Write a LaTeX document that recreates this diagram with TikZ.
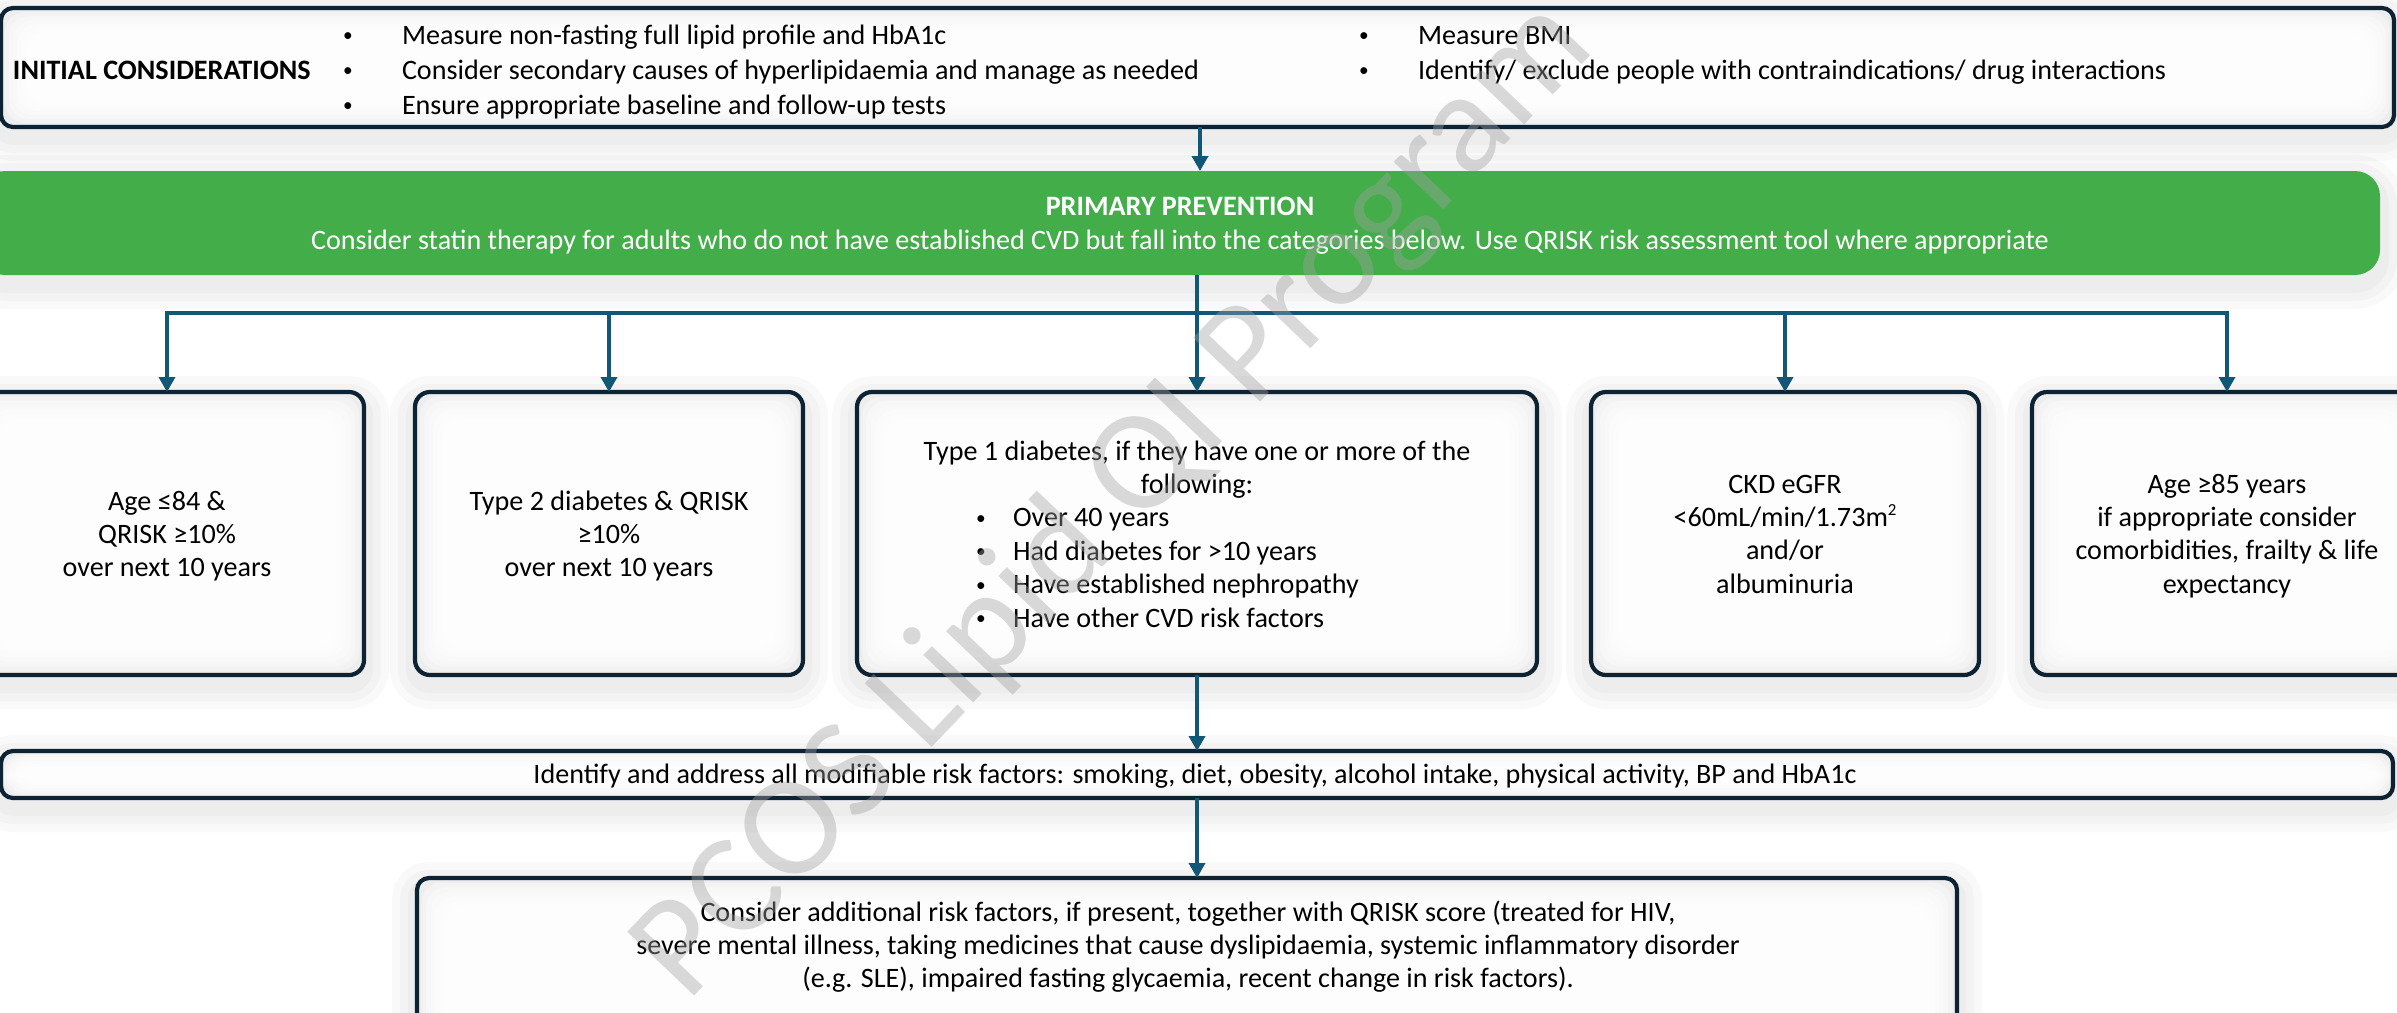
\documentclass[tikz,border=0pt]{standalone}
\usepackage{fontspec}
\setmainfont{Carlito}
\usetikzlibrary{arrows.meta}
\definecolor{navy}{RGB}{13,34,51}
\definecolor{linkteal}{RGB}{16,88,117}
\definecolor{boxgreen}{RGB}{67,173,74}
\newcommand\dgfont{\fontsize{8}{9.6}\selectfont}
\newcommand\bul{\raisebox{0.7pt}{\fontsize{5.5}{6}\selectfont •}}
\newcommand\sqr{\raisebox{3.2pt}{\fontsize{4.8}{5}\selectfont 2}}
\tikzset{
  halo/.style={
    preaction={draw=black, draw opacity=0.022, line width=5mm, transform canvas={yshift=-0.9mm}},
    preaction={draw=black, draw opacity=0.022, line width=3.4mm, transform canvas={yshift=-0.9mm}},
    preaction={draw=black, draw opacity=0.022, line width=1.8mm, transform canvas={yshift=-0.9mm}}},
  glow/.style={path picture={
    \foreach \i in {1,...,7}{
      \fill[white, opacity=0.35, rounded corners=2mm]
        ([shift={(\i*#1,\i*#1)}]path picture bounding box.south west) rectangle
        ([shift={(-\i*#1,-\i*#1)}]path picture bounding box.north east);}}},
  frame/.style={draw=navy, line width=0.42mm, fill=black!7, inner sep=0pt,
    outer sep=0pt, rounded corners=#1, halo},
  txt/.style={inner sep=0pt, outer sep=0pt, anchor=base, text=black},
  line/.style={draw=linkteal, line width=0.35mm},
  arr/.style={line, -{Triangle[length=1.5mm,width=1.6mm]}},
}
\begin{document}
\begin{tikzpicture}[x=0.1mm, y=-0.1mm, font=\dgfont]
\useasboundingbox (0,0) rectangle (2397,1012);
\clip (0,0) rectangle (2397,1012);
\fill[white] (0,0) rectangle (2397,1012);

% ---- boxes ----
\node[frame=1.2mm, glow=0.4mm, minimum width=239.3mm, minimum height=11.9mm] (top) at (1197.5,67.5) {};
\node[fill=boxgreen, rounded corners=2.5mm, inner sep=0pt, outer sep=0pt, halo,
      minimum width=240mm, minimum height=10.4mm] (green) at (1180,223) {};

\node[frame=1.5mm, glow=0.45mm, minimum width=39.4mm, minimum height=28.3mm] (box1) at (167,533.5) {};
\node[frame=1.5mm, glow=0.45mm, minimum width=38.8mm, minimum height=28.3mm] (box2) at (609,533.5) {};
\node[frame=1.5mm, glow=0.45mm, minimum width=68mm,   minimum height=28.3mm] (box3) at (1197,533.5) {};
\node[frame=1.5mm, glow=0.45mm, minimum width=38.8mm, minimum height=28.3mm] (box4) at (1785,533.5) {};
\node[frame=1.5mm, glow=0.45mm, minimum width=39mm,   minimum height=28.3mm] (box5) at (2227,533.5) {};

\node[frame=1.2mm, glow=0.25mm, minimum width=239.2mm, minimum height=4.7mm] (risk) at (1197,774.5) {};
\node[frame=1.2mm, glow=0.45mm, minimum width=154mm, minimum height=18.2mm] (final) at (1187,969) {};

% ---- connectors ----
\coordinate (spine) at (1200,0);
\coordinate (bus) at (1197,313);
\draw[arr] (top.south -| spine) -- (green.north -| spine);
\draw[line, line cap=rect] (box1 |- bus) -- (box5 |- bus);
\foreach \b in {box1,box2,box4,box5}
  \draw[arr] (\b |- bus) -- (\b.north);
\draw[arr] (green.south -| box3) -- (box3.north);
\draw[arr] (box3.south) -- (box3.south |- risk.north);
\draw[arr] (risk.south -| box3) -- (final.north -| box3);

% ---- initial considerations ----
\node[txt, anchor=base west, font=\dgfont\bfseries] (ic) at (13,79) {INITIAL CONSIDERATIONS};
\foreach \t [count=\k] in {Measure non-fasting full lipid profile and HbA1c,
    Consider secondary causes of hyperlipidaemia and manage as needed,
    Ensure appropriate baseline and follow-up tests}{
  \node[txt] (ilb\k) at (348,9+35*\k) {\bul};
  \node[txt, anchor=base west] (il\k) at (402,9+35*\k) {\t};}
\foreach \t [count=\k] in {Measure BMI,
    Identify/ exclude people with contraindications/ drug interactions}{
  \node[txt] (irb\k) at (1364,9+35*\k) {\bul};
  \node[txt, anchor=base west] (ir\k) at (1418,9+35*\k) {\t};}

% ---- primary prevention ----
\node[txt, text=white, font=\dgfont\bfseries] (g1) at (1180,215) {PRIMARY PREVENTION};
\node[txt, text=white] (g2) at (1180,249) {Consider statin therapy for adults who do not have established CVD but fall into the categories below. Use QRISK risk assessment tool where appropriate};

% ---- categories ----
\foreach \t [count=\k] in {Age ≤84 \&, QRISK ≥10\%, over next 10 years}
  \node[txt] (ta\k) at (167,477+33*\k) {\t};
\foreach \t [count=\k] in {Type 2 diabetes \& QRISK, ≥10\%, over next 10 years}
  \node[txt] (tb\k) at (609,477+33*\k) {\t};
\node[txt] (tc1) at (1197,460) {Type 1 diabetes, if they have one or more of the};
\node[txt] (tc2) at (1197,493) {following:};
\foreach \t [count=\k] in {Over 40 years, Had diabetes for >10 years,
    Have established nephropathy, Have other CVD risk factors}{
  \node[txt] (tcb\k) at (981,493.5+33.4*\k) {\bul};
  \node[txt, anchor=base west] (tcl\k) at (1013,493.5+33.4*\k) {\t};}
\foreach \t [count=\k] in {CKD eGFR, <60mL/min/1.73m\sqr, and/or, albuminuria}
  \node[txt] (td\k) at (1785,460+33.3*\k) {\t};
\foreach \t [count=\k] in {Age ≥85 years, if appropriate consider,
    {comorbidities, frailty \& life}, expectancy}
  \node[txt] (te\k) at (2227,460+33.3*\k) {\t};

% ---- risk factors ----
\node[txt] (rt) at (1195,783) {Identify and address all modifiable risk factors: smoking, diet, obesity, alcohol intake, physical activity, BP and HbA1c};
\foreach \t [count=\k] in {{Consider additional risk factors, if present, together with QRISK score (treated for HIV,},
    {severe mental illness, taking medicines that cause dyslipidaemia, systemic inflammatory disorder},
    {(e.g. SLE), impaired fasting glycaemia, recent change in risk factors).}}
  \node[txt] (ft\k) at (1188,888+33*\k) {\t};

% ---- watermark ----
\node[font=\fontsize{41}{48}\selectfont, text=black!37, text opacity=0.4,
      rotate=46.4, inner sep=0pt] (wm) at (1115,500) {PCOS Lipid QI Program};
\end{tikzpicture}
\end{document}
